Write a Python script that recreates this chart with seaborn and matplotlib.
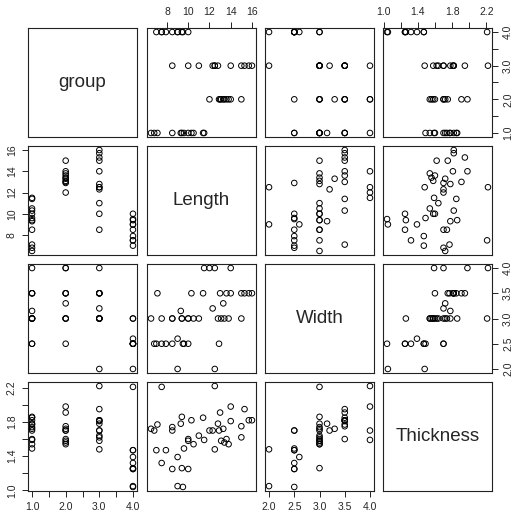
import numpy as np
import pandas as pd
import matplotlib
matplotlib.use("Agg")
import matplotlib.pyplot as plt
import seaborn as sns

# ---- data ----
group = [1]*12 + [2]*10 + [3]*12 + [4]*10
length = [6.5, 6.8, 7.1, 8.5, 9.3, 9.4, 9.6, 10.0, 10.3, 10.5, 11.4, 11.5,
          12.0, 14.0, 13.0, 13.3, 13.4, 13.6, 12.9, 13.1, 15.0, 13.8,
          8.5, 10.0, 11.0, 12.5, 12.5, 12.8, 12.3, 14.0, 15.0, 15.3, 15.7, 16.0,
          7.5, 7.0, 7.9, 9.0, 7.5, 8.5, 9.4, 10.0, 9.0, 9.5]
width = [3.0, 2.5, 3.5, 3.0, 3.15, 3.0, 2.5, 3.0, 3.5, 3.0, 3.5, 4.0,
         4.0, 4.0, 3.5, 3.3, 3.0, 3.5, 2.5, 3.0, 3.5, 3.0,
         3.0, 3.0, 3.0, 4.0, 2.0, 3.0, 3.2, 3.5, 3.0, 3.5, 3.5, 3.5,
         3.0, 2.5, 2.5, 2.6, 2.5, 2.5, 3.0, 2.5, 2.0, 2.5]
thickness = [1.72, 1.70, 1.77, 1.74, 1.78, 1.86, 1.49, 1.60, 1.82, 1.54, 1.85, 1.59,
             1.70, 1.98, 1.91, 1.72, 1.56, 1.60, 1.70, 1.58, 1.75, 1.54,
             1.70, 1.58, 1.64, 2.22, 1.48, 1.78, 1.70, 1.81, 1.62, 1.95, 1.82, 1.82,
             2.21, 1.47, 1.47, 1.39, 1.32, 1.25, 1.26, 1.25, 1.05, 1.04]

variables = ["group", "Length", "Width", "Thickness"]
group_ticks = [1.0, 1.5, 2.0, 2.5, 3.0, 3.5, 4.0]
group_labels = ["1.0", "", "2.0", "", "3.0", "", "4.0"]
length_ticks = [8, 10, 12, 14, 16]
length_labels = ["8", "10", "12", "14", "16"]
width_ticks = [2.0, 2.5, 3.0, 3.5, 4.0]
width_labels = ["2.0", "2.5", "3.0", "3.5", "4.0"]
thick_ticks = [1.0, 1.2, 1.4, 1.6, 1.8, 2.0, 2.2]
thick_labels = ["1.0", "", "1.4", "", "1.8", "", "2.2"]

df = pd.DataFrame({"group": group, "Length": length,
                   "Width": width, "Thickness": thickness})
ticks = {"group": (group_ticks, group_labels),
         "Length": (length_ticks, length_labels),
         "Width": (width_ticks, width_labels),
         "Thickness": (thick_ticks, thick_labels)}

sns.set_style("ticks")
plt.rcParams["font.family"] = ["Liberation Sans", "DejaVu Sans"]

W, H = 513, 511
fig = plt.figure(figsize=(W / 100, H / 100), dpi=100)
col_x = [28, 147, 265, 383]
row_y = [28, 146, 264, 382]
pw, ph = 109, 109

def lims(v):
    a, b = float(np.min(df[v])), float(np.max(df[v]))
    r = b - a
    return a - 0.04 * r, b + 0.04 * r

tick_fs = 7.5
for i, yv in enumerate(variables):
    for j, xv in enumerate(variables):
        ax = fig.add_axes([col_x[j] / W, 1 - (row_y[i] + ph) / H, pw / W, ph / H])
        for s in ax.spines.values():
            s.set_visible(True)
            s.set_color("#222222")
            s.set_linewidth(0.8)
        ax.set_xticks([])
        ax.set_yticks([])
        if i == j:
            ax.set_xlim(0, 1)
            ax.set_ylim(0, 1)
            ax.text(0.5, 0.5, xv, ha="center", va="center", fontsize=13.5)
        else:
            sns.scatterplot(x=df[xv], y=df[yv], ax=ax, marker="o",
                            facecolor="none", edgecolor="black",
                            linewidth=0.7, s=16, legend=False)
            ax.set_xlim(*lims(xv))
            ax.set_ylim(*lims(yv))
        ax.set_xlabel("")
        ax.set_ylabel("")
        ax.tick_params(which="both", length=4, width=0.7, color="#222222",
                       labelsize=tick_fs, pad=4,
                       bottom=False, top=False, left=False, right=False,
                       labelbottom=False, labeltop=False,
                       labelleft=False, labelright=False)
        # x axis
        if i == 3 and j in (0, 2):
            t, l = ticks[xv]
            ax.set_xticks(t)
            ax.set_xticklabels(l)
            ax.tick_params(axis="x", bottom=True, labelbottom=True)
        if i == 0 and j in (1, 3):
            t, l = ticks[xv]
            ax.set_xticks(t)
            ax.set_xticklabels(l)
            ax.tick_params(axis="x", top=True, labeltop=True)
        # y axis
        if j == 0 and i in (1, 3):
            t, l = ticks[yv]
            ax.set_yticks(t)
            ax.set_yticklabels(l, rotation=90, va="center")
            ax.tick_params(axis="y", left=True, labelleft=True)
        if j == 3 and i in (0, 2):
            t, l = ticks[yv]
            ax.set_yticks(t)
            ax.set_yticklabels(l, rotation=90, va="center")
            ax.tick_params(axis="y", right=True, labelright=True)

fig.savefig("out.png", dpi=100)
